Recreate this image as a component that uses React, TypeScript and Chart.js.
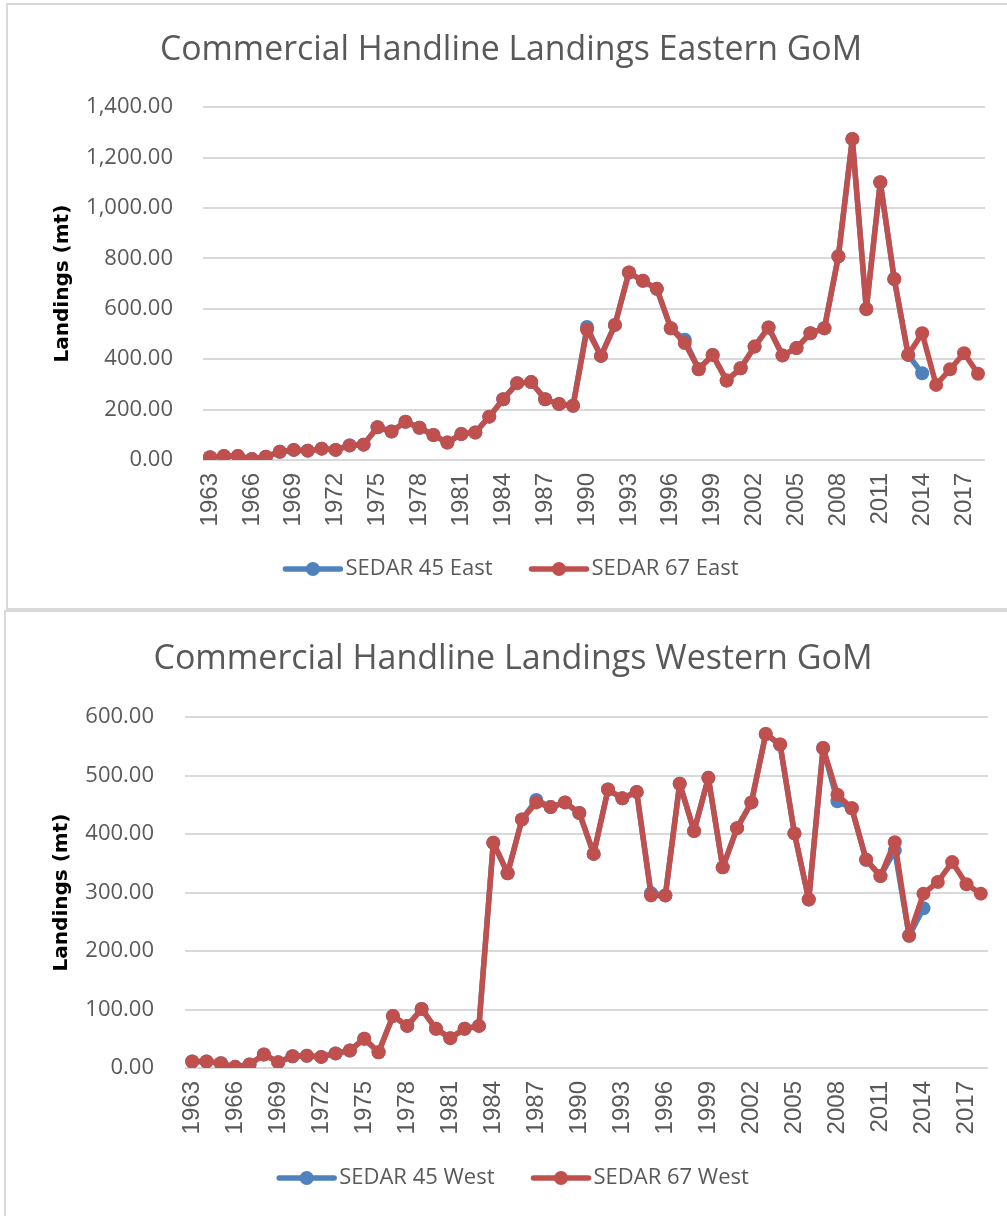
import React, { useEffect, useRef } from 'react';
import { Chart, registerables } from 'chart.js';

Chart.register(...registerables);

const years = [
  '1963', '1964', '1965', '1966', '1967', '1968', '1969', '1970', '1971', '1972',
  '1973', '1974', '1975', '1976', '1977', '1978', '1979', '1980', '1981', '1982',
  '1983', '1984', '1985', '1986', '1987', '1988', '1989', '1990', '1991', '1992',
  '1993', '1994', '1995', '1996', '1997', '1998', '1999', '2000', '2001', '2002',
  '2003', '2004', '2005', '2006', '2007', '2008', '2009', '2010', '2011', '2012',
  '2013', '2014', '2015', '2016', '2017', '2018',
];

const eastSedar45 = [
  11, 16, 16, 4, 13, 33, 40, 37, 45, 40,
  58, 61, 130, 113, 152, 128, 99, 69, 103, 109,
  172, 241, 305, 309, 241, 222, 215, 528, 413, 536,
  744, 711, 679, 523, 477, 360, 417, 315, 364, 450,
  526, 415, 444, 503, 523, 808, 1274, 599, 1102, 718,
  417, 344, null, null, null, null,
];

const eastSedar67 = [
  11, 16, 16, 4, 13, 33, 40, 37, 45, 40,
  58, 61, 130, 113, 152, 128, 99, 69, 103, 109,
  172, 241, 305, 309, 241, 222, 215, 518, 413, 536,
  744, 711, 679, 523, 464, 360, 417, 315, 364, 450,
  526, 415, 444, 503, 523, 808, 1274, 599, 1102, 718,
  417, 503, 298, 360, 424, 342,
];

const westSedar45 = [
  11, 11, 8, 2, 6, 23, 10, 20, 21, 19,
  25, 30, 50, 27, 89, 72, 101, 67, 51, 67,
  72, 385, 333, 425, 458, 446, 454, 436, 366, 476,
  461, 472, 299, 295, 486, 405, 496, 343, 410, 454,
  571, 553, 401, 288, 547, 456, 444, 356, 328, 372,
  226, 273, null, null, null, null,
];

const westSedar67 = [
  11, 11, 8, 2, 6, 23, 10, 20, 21, 19,
  25, 30, 50, 27, 89, 72, 101, 67, 51, 67,
  72, 385, 333, 425, 454, 446, 454, 436, 366, 476,
  461, 472, 295, 295, 486, 405, 496, 343, 410, 454,
  571, 553, 401, 288, 547, 467, 444, 356, 328, 386,
  226, 298, 318, 352, 314, 298,
];

const eastTicks = { max: 1400, step: 200 };
const westTicks = { max: 600, step: 100 };

const BLUE = '#4F81BD';
const RED = '#C0504D';
const GRAY_TEXT = '#595959';
const GRID = '#d9d9d9';

const fmt = new Intl.NumberFormat('en-US', { minimumFractionDigits: 2, maximumFractionDigits: 2 });

type Layout = {
  canvasW: number;
  canvasH: number;
  yWidth: number;
  yTickPad: number;
  yTitlePad: number;
  xHeight: number;
  xPadRight: number;
  titleTop: number;
  titleBottom: number;
  titleSize: number;
  legendPad: number;
  bottomPad: number;
};

const legendMarkers = {
  id: 'legendMarkers',
  afterLayout(chart: any) {
    // let the rotated year labels extend below the x-axis box without being clipped
    const x = chart.scales.x;
    if (x) x.bottom = chart.height;
  },
  afterDraw(chart: any) {
    const legend = chart.legend;
    if (!legend || !legend.legendHitBoxes) return;
    const ctx = chart.ctx;
    legend.legendHitBoxes.forEach((hb: any, i: number) => {
      const ds = chart.data.datasets[i];
      if (!ds) return;
      const cy = hb.top + hb.height / 2;
      const len = 59;
      ctx.save();
      ctx.strokeStyle = ds.borderColor;
      ctx.lineWidth = 5.5;
      ctx.lineCap = 'round';
      ctx.beginPath();
      ctx.moveTo(hb.left + 2, cy);
      ctx.lineTo(hb.left + len - 2, cy);
      ctx.stroke();
      ctx.fillStyle = ds.borderColor;
      ctx.beginPath();
      ctx.arc(hb.left + len / 2, cy, 7, 0, Math.PI * 2);
      ctx.fill();
      ctx.restore();
    });
  },
};

function makeConfig(title: string, s45: string, s67: string, d45: any[], d67: any[], ticks: { max: number; step: number }, L: Layout): any {
  const common = {
    borderWidth: 5.5,
    pointRadius: 7,
    pointHoverRadius: 7,
    pointBorderWidth: 0,
    borderJoinStyle: 'round',
    borderCapStyle: 'round',
    tension: 0,
    spanGaps: false,
  };
  return {
    type: 'line',
    data: {
      labels: years,
      datasets: [
        { ...common, label: s45, data: d45, borderColor: BLUE, backgroundColor: BLUE, pointBackgroundColor: BLUE, pointBorderColor: BLUE, order: 2 },
        { ...common, label: s67, data: d67, borderColor: RED, backgroundColor: RED, pointBackgroundColor: RED, pointBorderColor: RED, order: 1 },
      ],
    },
    plugins: [legendMarkers],
    options: {
      responsive: false,
      animation: false,
      devicePixelRatio: 1,
      layout: { padding: { left: 0, right: 0, top: 0, bottom: L.bottomPad } },
      plugins: {
        tooltip: { enabled: false },
        title: {
          display: true,
          text: title,
          color: GRAY_TEXT,
          font: { family: "'Open Sans', sans-serif", size: L.titleSize, weight: 'normal' },
          padding: { top: L.titleTop, bottom: L.titleBottom },
        },
        legend: {
          display: true,
          position: 'bottom',
          align: 'center',
          labels: {
            color: GRAY_TEXT,
            font: { family: "'Open Sans', sans-serif", size: 22 },
            boxWidth: 51,
            boxHeight: 5,
            padding: L.legendPad,
            generateLabels: (chart: any) =>
              chart.data.datasets.map((ds: any, i: number) => ({
                text: ds.label,
                fillStyle: 'rgba(0,0,0,0)',
                strokeStyle: 'rgba(0,0,0,0)',
                lineWidth: 0,
                hidden: false,
                datasetIndex: i,
                fontColor: GRAY_TEXT,
              })),
          },
        },
      },
      scales: {
        x: {
          type: 'category',
          offset: true,
          grid: { display: false, drawTicks: false },
          border: { display: false },
          ticks: {
            autoSkip: false,
            minRotation: 90,
            maxRotation: 90,
            padding: 13,
            color: GRAY_TEXT,
            font: { family: "'Liberation Sans', Arial, sans-serif", size: 24 },
            callback: (_v: any, i: number) => (i % 3 === 0 ? years[i] : ''),
          },
          afterFit: (scale: any) => {
            scale.height = L.xHeight;
            scale.paddingLeft = 0;
            scale.paddingRight = L.xPadRight;
          },
        },
        y: {
          min: 0,
          max: ticks.max,
          grid: { color: GRID, lineWidth: 2, drawTicks: false },
          border: { display: false },
          ticks: {
            stepSize: ticks.step,
            padding: L.yTickPad,
            color: GRAY_TEXT,
            font: { family: "'Open Sans', sans-serif", size: 22 },
            callback: (v: any) => fmt.format(Number(v)),
          },
          title: {
            display: true,
            text: 'Landings (mt)',
            color: '#000000',
            font: { family: "'DejaVu Sans', sans-serif", size: 20, weight: 'bold' },
            padding: { top: L.yTitlePad, bottom: 0 },
          },
          afterFit: (scale: any) => {
            scale.width = L.yWidth;
            scale.paddingTop = 0;
            scale.paddingBottom = 0;
          },
        },
      },
    },
  };
}

function ChartPanel(props: { left: number; top: number; L: Layout; title: string; s45: string; s67: string; d45: any[]; d67: any[]; ticks: { max: number; step: number } }) {
  const ref = useRef<HTMLCanvasElement | null>(null);
  const { left, top, L, title, s45, s67, d45, d67, ticks } = props;
  useEffect(() => {
    if (!ref.current) return;
    const chart = new Chart(ref.current, makeConfig(title, s45, s67, d45, d67, ticks, L));
    return () => chart.destroy();
  }, []);
  return (
    <canvas
      ref={ref}
      width={L.canvasW}
      height={L.canvasH}
      style={{ position: 'absolute', left, top, width: L.canvasW, height: L.canvasH }}
    />
  );
}

const eastLayout: Layout = {
  canvasW: 1008,
  canvasH: 609,
  yWidth: 196,
  yTickPad: 30,
  yTitlePad: 44,
  xHeight: 61,
  xPadRight: 30,
  titleTop: 30.5,
  titleBottom: 36.1,
  titleSize: 33.8,
  legendPad: 37,
  bottomPad: 19,
};

const westLayout: Layout = {
  canvasW: 1016,
  canvasH: 605,
  yWidth: 180,
  yTickPad: 31,
  yTitlePad: 45,
  xHeight: 62,
  xPadRight: 33,
  titleTop: 27.6,
  titleBottom: 37.6,
  titleSize: 34,
  legendPad: 37,
  bottomPad: 17,
};

export default function App() {
  return (
    <div style={{ position: 'absolute', left: 0, top: 0, width: 1007, height: 1216, overflow: 'hidden', background: '#ffffff' }}>
      <ChartPanel left={7} top={0} L={eastLayout} title="Commercial Handline Landings Eastern GoM" s45="SEDAR 45 East" s67="SEDAR 67 East" d45={eastSedar45} d67={eastSedar67} ticks={eastTicks} />
      <ChartPanel left={5} top={611} L={westLayout} title="Commercial Handline Landings Western GoM" s45="SEDAR 45 West" s67="SEDAR 67 West" d45={westSedar45} d67={westSedar67} ticks={westTicks} />
      <div style={{ position: 'absolute', left: 6, top: 3, width: 1010, height: 607, boxSizing: 'border-box', borderLeft: '2px solid #d9d9d9', borderTop: '2px solid #d9d9d9', borderBottom: '2px solid #d9d9d9' }} />
      <div style={{ position: 'absolute', left: 4, top: 610, width: 1010, height: 620, boxSizing: 'border-box', borderLeft: '2px solid #d9d9d9', borderTop: '2px solid #d9d9d9' }} />
    </div>
  );
}
